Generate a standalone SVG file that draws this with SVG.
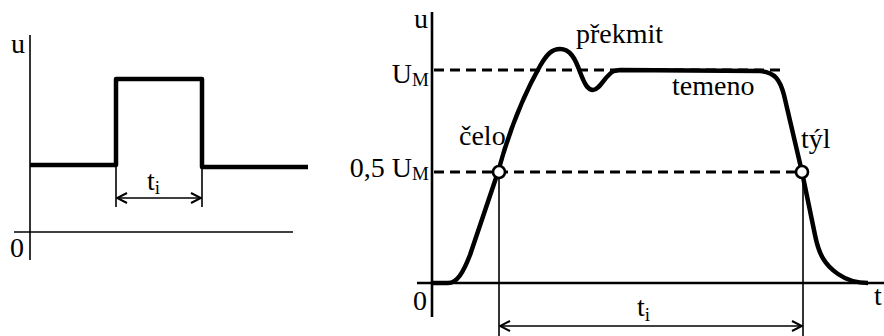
<svg xmlns="http://www.w3.org/2000/svg" width="884" height="336" viewBox="0 0 884 336">
<style>
text{font-family:'Liberation Serif','Times New Roman','DejaVu Serif',serif;font-size:28px;fill:#000}
.sub{font-size:19px}
.thin{stroke:#000;stroke-width:1.6;fill:none}
.axis{stroke:#000;stroke-width:2.6;fill:none}
.wave{stroke:#000;stroke-width:4.5;fill:none;stroke-linejoin:round;stroke-linecap:butt}
.dash{stroke:#000;stroke-width:3;stroke-dasharray:10 6;fill:none}
.pt{stroke:#000;stroke-width:2.6;fill:#fff}
</style>
<defs>
<marker id="ah" viewBox="0 0 12 12" refX="11" refY="6" markerWidth="12" markerHeight="12" markerUnits="userSpaceOnUse" orient="auto-start-reverse">
<polyline points="1,1 11,6 1,11" fill="none" stroke="#000" stroke-width="2"/>
</marker>
</defs>
<g id="left-diagram">
<g id="left-axes">
<line class="thin" x1="30" y1="35" x2="30" y2="260" stroke-width="2"/>
<line class="thin" x1="14" y1="232" x2="293" y2="232" stroke-width="2"/>
<text x="11" y="53">u</text>
<text x="10" y="257">0</text>
</g>
<g id="left-pulse">
<path class="wave" d="M30,165 L116,165 L116,79 L202,79 L202,167 L308,167"/>
</g>
<g id="left-dimension">
<line class="thin" x1="116" y1="165" x2="116" y2="207"/>
<line class="thin" x1="202" y1="167" x2="202" y2="207"/>
<line class="thin" x1="117" y1="198" x2="201" y2="198" marker-start="url(#ah)" marker-end="url(#ah)"/>
<text x="147" y="190">t<tspan class="sub" dy="4">i</tspan></text>
</g>
</g>
<g id="right-diagram">
<g id="right-axes">
<line class="axis" x1="432" y1="12" x2="432" y2="317" stroke-width="3"/>
<line class="axis" x1="417" y1="283" x2="884" y2="283"/>
<text x="414" y="28">u</text>
<text x="413" y="310">0</text>
<text x="874" y="305">t</text>
</g>
<g id="levels">
<line class="dash" x1="434" y1="70" x2="780" y2="70"/>
<line class="dash" x1="434" y1="172" x2="796" y2="172"/>
<text x="429" y="83" text-anchor="end">U<tspan class="sub" dy="3">M</tspan></text>
<text x="429" y="177" text-anchor="end">0,5 U<tspan class="sub" dy="3">M</tspan></text>
</g>
<g id="impulse">
<path class="wave" d="M432,283 L448,283 C457,283 463,273 470,255 L498,172 C508,135 522,98 540,66 C547,54 552,49 560,49 C570,49 575,58 580,72 C585,85 588,90 593,90 C600,90 606,74 614,71 L620,70 L760,71 C775,72 780,80 784,95 L802,172 L815,235 C819,255 825,265 838,274 C848,281 858,283 868,283"/>
</g>
<g id="ti-dimension">
<line class="thin" x1="499" y1="172" x2="499" y2="336"/>
<line class="thin" x1="803" y1="172" x2="803" y2="336"/>
<line class="thin" x1="500" y1="326" x2="802" y2="326" marker-start="url(#ah)" marker-end="url(#ah)"/>
<text x="637" y="316">t<tspan class="sub" dy="5">i</tspan></text>
</g>
<g id="points">
<circle class="pt" cx="499" cy="172" r="6"/>
<circle class="pt" cx="802" cy="172" r="6"/>
</g>
<g id="labels">
<text x="576" y="43">překmit</text>
<text x="672" y="95">temeno</text>
<text x="459" y="145">čelo</text>
<text x="801" y="148">týl</text>
</g>
</g>
</svg>
